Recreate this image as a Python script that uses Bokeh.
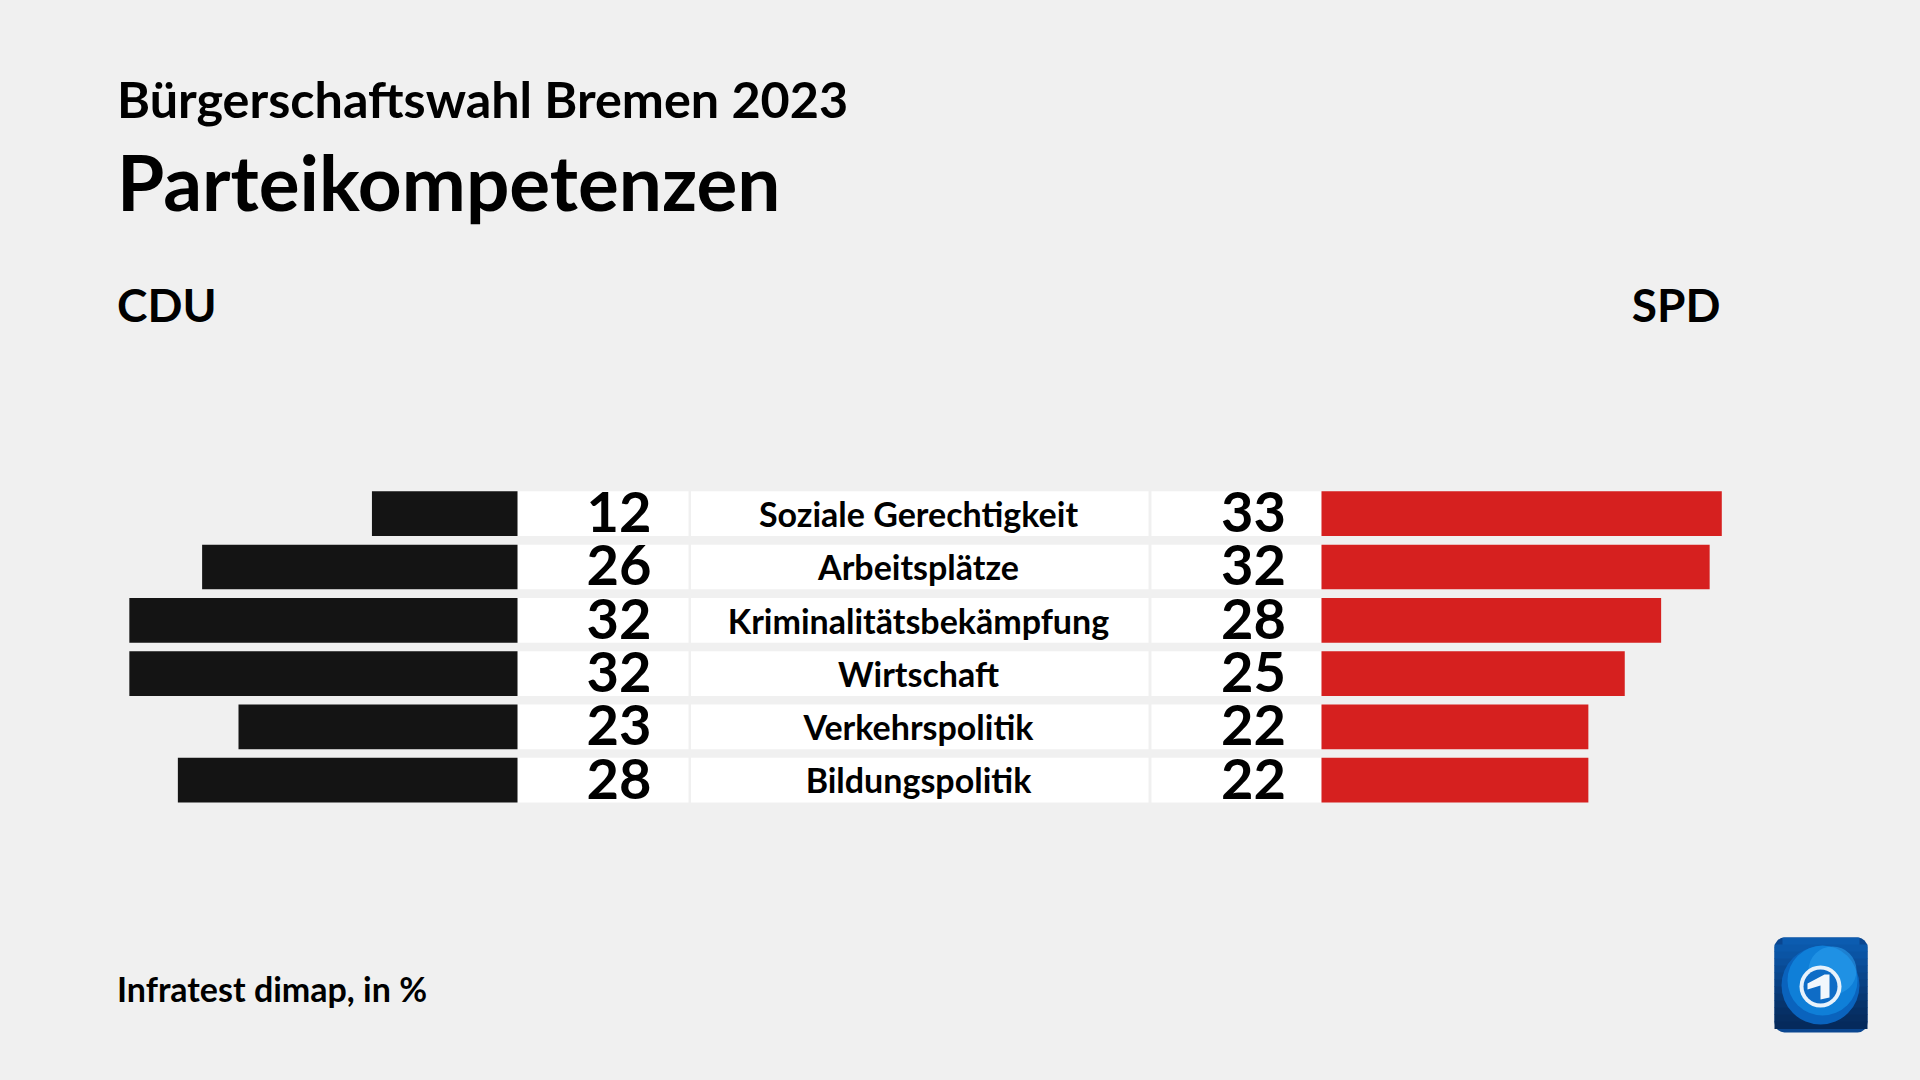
from bokeh.plotting import figure
from bokeh.models import Range1d, ColumnDataSource
from bokeh.core.properties import value
from bokeh.embed import file_html
from bokeh.resources import INLINE

subtitle = "Bürgerschaftswahl Bremen 2023"
title = "Parteikompetenzen"
left_party = "CDU"
right_party = "SPD"
footer = "Infratest dimap, in %"
categories = ["Soziale Gerechtigkeit", "Arbeitsplätze", "Kriminalitätsbekämpfung",
              "Wirtschaft", "Verkehrspolitik", "Bildungspolitik"]
cdu = [12, 26, 32, 32, 23, 28]
spd = [33, 32, 28, 25, 22, 22]

BG = "#f0f0f0"
BLACK = "#141414"
RED = "#d6201f"
FONT = "Lato"
PX_PER_PCT = 12.13
PX_PER_ROW = 53.3
BASE_L, BASE_R = 517.0, 1321.0
ROW0 = 513.2
W, H = 1904, 1064
BASE_SHIFT = 0.36

def X(px):
    return (px - BASE_L) / PX_PER_PCT
def Y(px):
    return (px - ROW0) / PX_PER_ROW

p = figure(width=W, height=H, output_backend="svg", toolbar_location=None,
           x_range=Range1d(X(0), X(W)), y_range=Range1d(Y(H), Y(0)),
           min_border=0, outline_line_color=None, background_fill_color=BG,
           border_fill_color=BG, x_axis_location=None, y_axis_location=None)
p.grid.visible = False

NUM_SIZE, LAB_SIZE = 56, 34
rows = list(range(len(categories)))
bar_h = 44.7 / PX_PER_ROW
r0 = X(BASE_R)
num_dy = (18.5 - BASE_SHIFT * NUM_SIZE) / PX_PER_ROW
lab_dy = (12 - BASE_SHIFT * LAB_SIZE) / PX_PER_ROW
src = ColumnDataSource(dict(y=rows, cat=categories, cdu=cdu, spd=spd,
                            cl=[-v for v in cdu], sr=[r0 + v for v in spd],
                            cs=[str(v) for v in cdu], ss=[str(v) for v in spd],
                            yn=[r + num_dy for r in rows], yl=[r + lab_dy for r in rows]))

# white cells
for a, b in [(517, 688), (690.5, 1148), (1151, 1321)]:
    p.hbar(y="y", left=X(a), right=X(b), height=bar_h, source=src, fill_color="white", line_color=None)

p.hbar(y="y", left="cl", right=0, height=bar_h, source=src, fill_color=BLACK, line_color=None)
p.hbar(y="y", left=r0, right="sr", height=bar_h, source=src, fill_color=RED, line_color=None)

p.text(x=X(618.5), y="yn", text="cs", source=src, text_font=value(FONT), text_font_style="bold",
       text_font_size=f"{NUM_SIZE}px", text_align="center", text_baseline="alphabetic", text_color="#000000")
p.text(x=X(1253), y="yn", text="ss", source=src, text_font=value(FONT), text_font_style="bold",
       text_font_size=f"{NUM_SIZE}px", text_align="center", text_baseline="alphabetic", text_color="#000000")
p.text(x=X(918), y="yl", text="cat", source=src, text_font=value(FONT), text_font_style="bold",
       text_font_size=f"{LAB_SIZE}px", text_align="center", text_baseline="alphabetic", text_color="#000000")

def label(txt, px, py, size, align="left", style="bold"):
    p.text(x=[X(px)], y=[Y(py - BASE_SHIFT * size)], text=[txt], text_font=value(FONT), text_font_style=style,
           text_font_size=f"{size}px", text_align=align, text_baseline="alphabetic", text_color="#000000")

label(subtitle, 116.5, 116, 50.3)
label(title, 116.5, 208.5, 76.5)
label(left_party, 116.5, 320.5, 46)
label(right_party, 1720, 320.5, 46, align="right")
label(footer, 116.5, 1000, 34)

# logo
def circ(cx, cy, r, color, alpha=1.0):
    p.ellipse(x=[X(cx)], y=[Y(cy)], width=2 * r / PX_PER_PCT, height=2 * r / PX_PER_ROW,
              fill_color=color, fill_alpha=alpha, line_color=None)

LOGO = [(937 + i * 7, c) for i, c in enumerate(
    ["#0c5cb0", "#0b58aa", "#0a54a4", "#0a4f9c", "#094a94", "#09468c", "#084184",
     "#083c7c", "#073874", "#07346c", "#063066", "#062d60", "#052a5c"])]
p.quad(left=[X(1774)], right=[X(1867)], top=[Y(937)], bottom=[Y(1032)], fill_color="#0a4690", line_color=None,
       border_radius=10)
for y0, c in LOGO:
    p.quad(left=[X(1774 if 944 <= y0 < 1022 else 1782)], right=[X(1867 if 944 <= y0 < 1022 else 1859)],
           top=[Y(y0)], bottom=[Y(min(y0 + 7.5, 1032))], fill_color=c, line_color=None)
circ(1820, 985, 39, "#0a63bd")
circ(1822, 980, 35, "#0f7fd8")
circ(1832, 970, 24, "#2a9cec", 0.6)
circ(1820, 986, 21, "#e8f2fb")
circ(1820, 986, 17, "#0e6cc6")
one_x = [1807, 1824, 1829, 1829, 1820, 1820, 1807]
one_y = [983, 974, 974, 997, 999, 985, 989]
p.patch(x=[X(v) for v in one_x], y=[Y(v) for v in one_y], fill_color="#f2f7fc", line_color=None)

html = file_html(p, INLINE).replace("<body>", '<body style="background:#f0f0f0">')
open("out.html", "w").write(html)
